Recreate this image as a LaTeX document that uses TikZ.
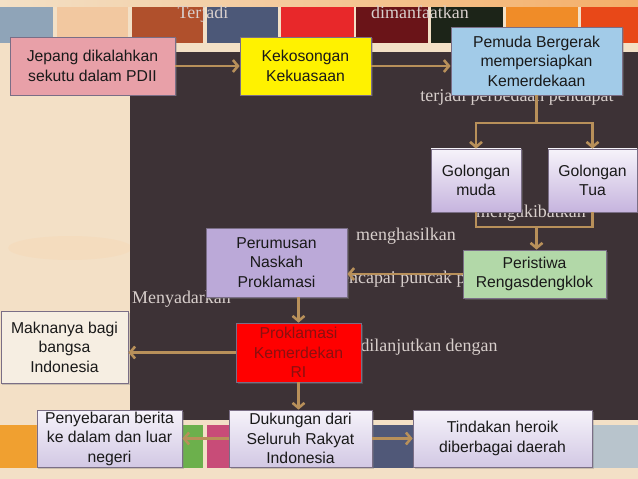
\documentclass[tikz,border=0pt]{standalone}
\usepackage{fontspec}
\setmainfont{Liberation Sans}
\newfontfamily\lblfont{Liberation Serif}
\usetikzlibrary{arrows.meta,shadows,calc}
\definecolor{conn}{HTML}{B8905A}
\definecolor{bgcream}{HTML}{F3E0C6}
\definecolor{darkbg}{HTML}{3D3236}
\definecolor{lbltext}{HTML}{D8CFCC}
\definecolor{boxline}{HTML}{7A6E86}
\definecolor{tA}{HTML}{8FA4B8}
\definecolor{tB}{HTML}{F2C8A0}
\definecolor{tC}{HTML}{B0502C}
\definecolor{tD}{HTML}{4C5878}
\definecolor{tE}{HTML}{E8282A}
\definecolor{tF}{HTML}{6A1418}
\definecolor{tG}{HTML}{1C2418}
\definecolor{tH}{HTML}{F08C28}
\definecolor{tI}{HTML}{E84818}
\definecolor{bA}{HTML}{F0A030}
\definecolor{bB}{HTML}{F0C898}
\definecolor{bC}{HTML}{6CB04C}
\definecolor{bD}{HTML}{C84C78}
\definecolor{bE}{HTML}{A03838}
\definecolor{bF}{HTML}{505878}
\definecolor{bG}{HTML}{983030}
\definecolor{bH}{HTML}{8090A8}
\definecolor{bI}{HTML}{B8C4CC}
\definecolor{pinkbox}{HTML}{E8A0A8}
\definecolor{bluebox}{HTML}{A2CBE8}
\definecolor{greenbox}{HTML}{B2D8A8}
\definecolor{purplebox}{HTML}{BBA9D8}
\definecolor{creambox}{HTML}{F6EEE2}
\definecolor{lavtop}{HTML}{F6F3FA}
\definecolor{lavbot}{HTML}{C6B4DE}
\definecolor{lavbotb}{HTML}{D2C8E4}
\definecolor{redtext}{HTML}{8A1010}
\begin{document}
\begin{tikzpicture}[x=1bp,y=-1bp,
  box/.style={draw=boxline, line width=0.8bp, inner sep=0pt, align=center,
    font=\fontsize{15.8}{19.5}\selectfont, text=black!90,
    drop shadow={shadow xshift=1.5bp,shadow yshift=-1.5bp,opacity=0.35}},
  lbl/.style={font=\lblfont\fontsize{18}{20}\selectfont, text=lbltext, inner sep=0pt},
  link/.style={draw=conn, line width=2.6bp},
  arr/.style={link, -{Straight Barb[length=5bp,width=12bp]}},
  lav/.style={top color=lavtop, bottom color=lavbot},
  lavb/.style={top color=lavtop, bottom color=lavbotb},
]
\useasboundingbox (0,0) rectangle (638,479);
% background
\fill[bgcream] (0,0) rectangle (638,479);
\shade[left color=bgcream, right color=tH!70] (0,0) rectangle (638,7);
\foreach \a/\b/\c in {0/53/tA,57/128/tB,132/203/tC,207/278/tD,281/354/tE,356/428/tF,431/503/tG,506/578/tH,581/638/tI}
  \fill[\c] (\a,7) rectangle (\b,43);
\foreach \a/\b/\c in {0/53/bA,57/128/bB,132/203/bC,207/278/bD,281/354/bE,356/428/bF,431/503/bG,506/578/bH,581/638/bI}
  \fill[\c] (\a,425) rectangle (\b,468);
\fill[orange!45, opacity=0.12] (70,248) ellipse (62 and 12);
\fill[darkbg] (130,52) rectangle (638,420);
% labels
\node[lbl, anchor=base] (l1) at (203,19) {Terjadi};
\node[lbl, anchor=base] (l2) at (420,19) {dimanfaatkan};
\node[lbl, anchor=base] (l3) at (517,102) {terjadi perbedaan pendapat};
\node[lbl, anchor=base] (l4) at (531,218) {mengakibatkan};
\node[lbl, anchor=base] (l5) at (406,240.5) {menghasilkan};
\node[lbl, anchor=base west] (l6) at (327,283) {mencapai puncak pada};
\node[lbl, anchor=base] (l7) at (181.5,303.5) {Menyadarkan};
\node[lbl, anchor=base] (l8) at (429,351.5) {dilanjutkan dengan};
% boxes
\node[box, fill=pinkbox, minimum width=165bp, minimum height=58bp] (jepang) at (92.5,66) {Jepang dikalahkan\\sekutu dalam PDII};
\node[box, fill=yellow, minimum width=131bp, minimum height=58bp] (kekosongan) at (305.5,66) {Kekosongan\\Kekuasaan};
\node[box, fill=bluebox, minimum width=171bp, minimum height=68bp] (pemuda) at (536.5,61) {Pemuda Bergerak\\mempersiapkan\\Kemerdekaan};
\node[box, lav, minimum width=90bp, minimum height=63bp] (muda) at (476,180.5) {Golongan\\muda};
\node[box, lav, minimum width=89bp, minimum height=63bp] (tua) at (592.5,180.5) {Golongan\\Tua};
\node[box, fill=greenbox, minimum width=143bp, minimum height=48bp] (peristiwa) at (534.5,274) {Peristiwa\\Rengasdengklok};
\node[box, fill=purplebox, minimum width=141bp, minimum height=69bp] (perumusan) at (276.5,262.5) {Perumusan\\Naskah\\Proklamasi};
\node[box, fill=red, text=redtext, minimum width=125bp, minimum height=59bp] (proklamasi) at (298.5,352.5) {Proklamasi\\Kemerdekan\\RI};
\node[box, fill=creambox, minimum width=127bp, minimum height=72bp] (maknanya) at (64.5,347) {Maknanya bagi\\bangsa\\Indonesia};
\node[box, lavb, minimum width=145bp, minimum height=57bp] (penyebaran) at (109.5,438.5) {Penyebaran berita\\ke dalam dan luar\\negeri};
\node[box, lavb, minimum width=143bp, minimum height=57bp] (dukungan) at (300.5,438.5) {Dukungan dari\\Seluruh Rakyat\\Indonesia};
\node[box, lavb, minimum width=179bp, minimum height=57bp] (tindakan) at (502.5,438.5) {Tindakan heroik\\diberbagai daerah};
% connectors
\coordinate (split) at (536.5,123);
\coordinate (join) at (536.5,227);
\draw[arr] (jepang.east) -- (kekosongan.west);
\draw[arr] (kekosongan.east) -- (kekosongan.east -| pemuda.west);
\draw[link] (pemuda.south) -- (split);
\draw[arr] (split) -| (muda.north);
\draw[arr] (split) -| (tua.north);
\draw[link] (muda.south) |- (join);
\draw[link] (tua.south) |- (join);
\draw[arr] (join) -- (join |- peristiwa.north);
\draw[arr] (peristiwa.west) -- (peristiwa.west -| perumusan.east);
\draw[arr] (proklamasi.north |- perumusan.south) -- (proklamasi.north);
\draw[arr] (proklamasi.west) -- (proklamasi.west -| maknanya.east);
\draw[arr] (proklamasi.south) -- (proklamasi.south |- dukungan.north);
\draw[arr] (dukungan.west) -- (penyebaran.east);
\draw[arr] (dukungan.east) -- (tindakan.west);
\end{tikzpicture}
\end{document}
